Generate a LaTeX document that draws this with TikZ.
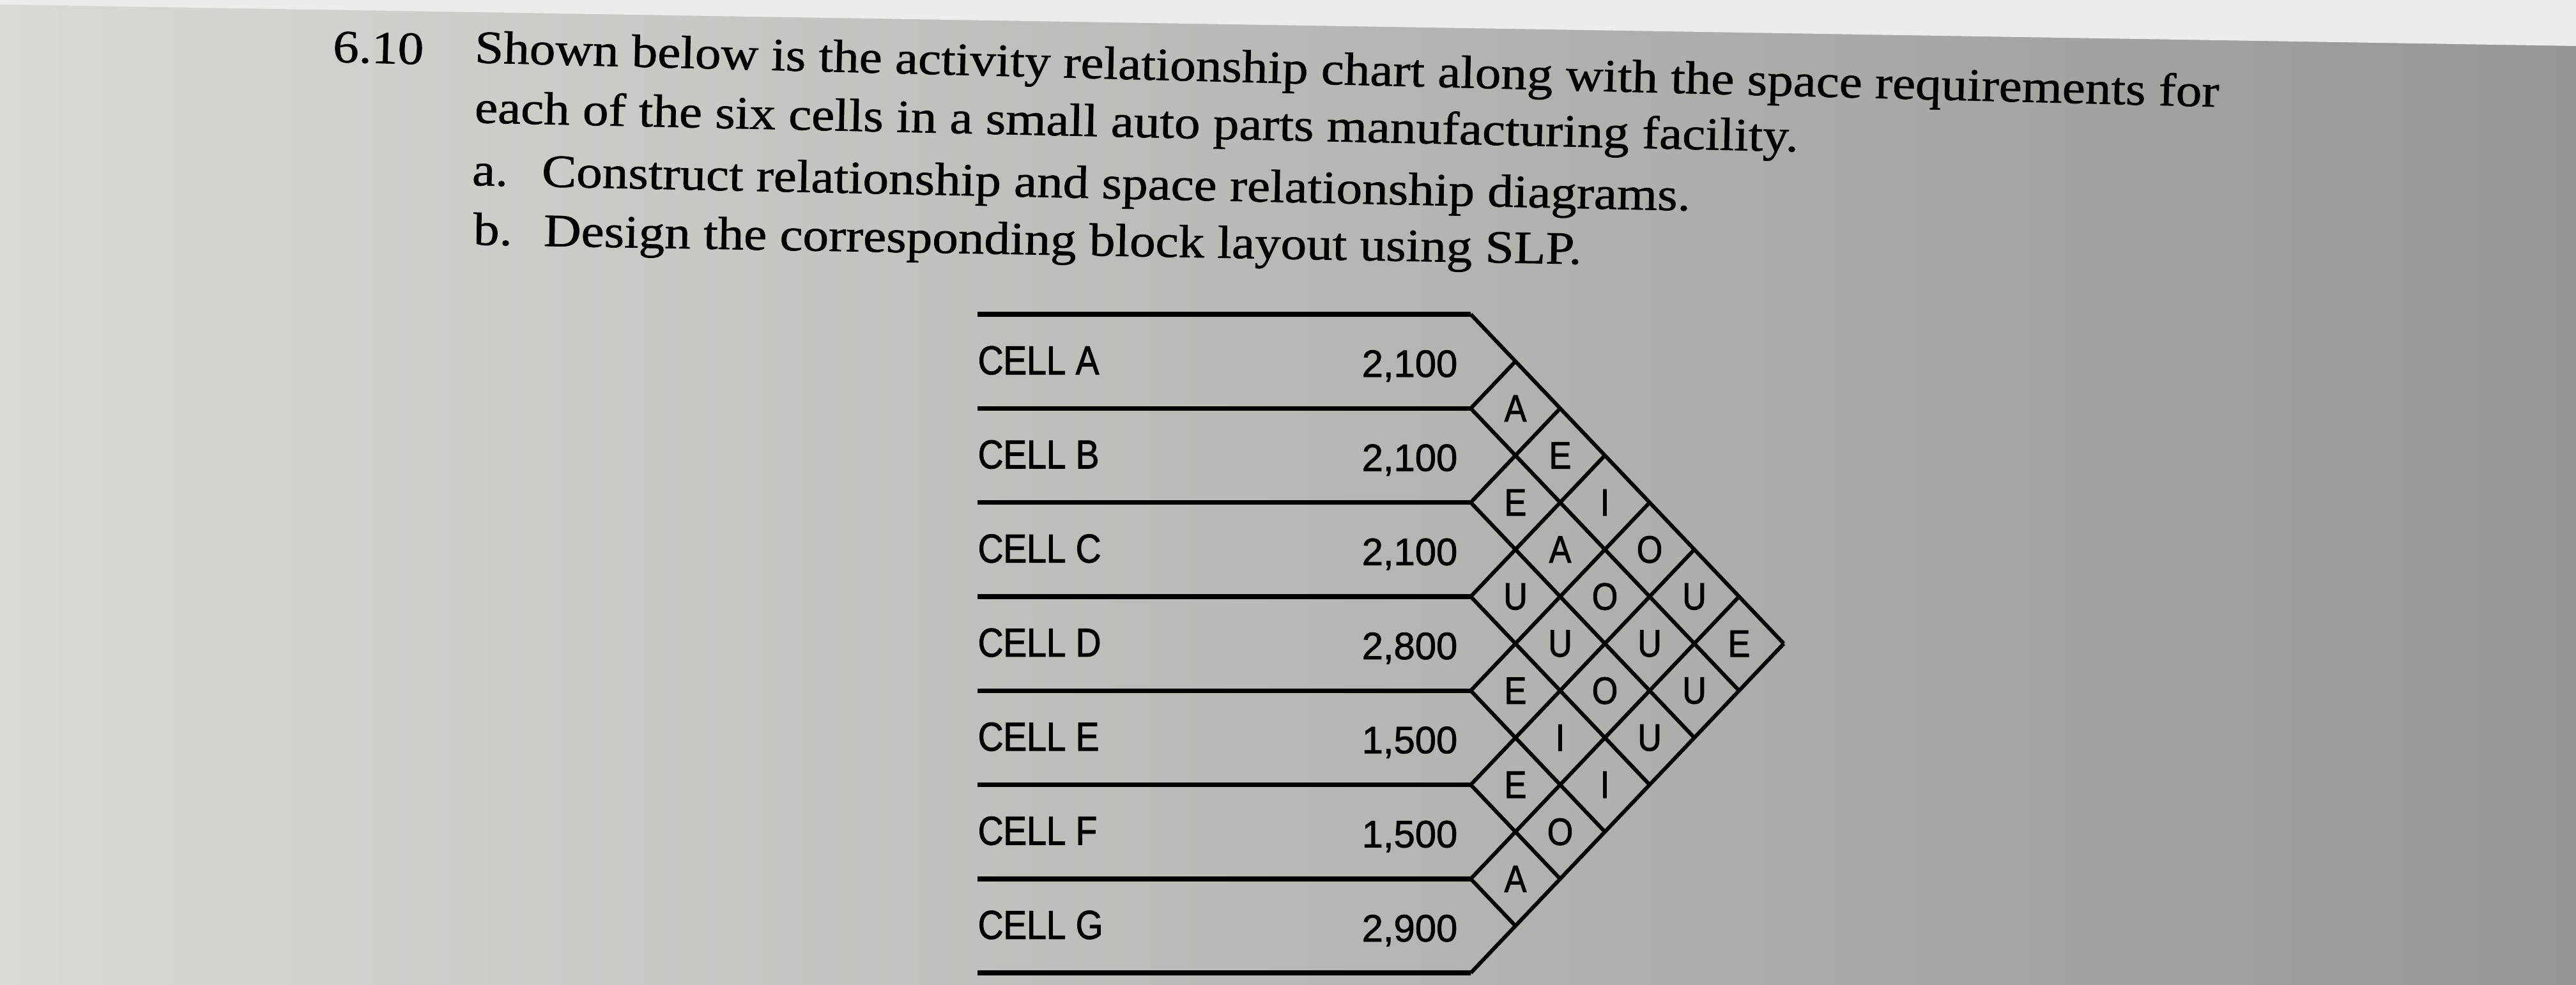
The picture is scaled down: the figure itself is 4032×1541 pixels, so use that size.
\documentclass[tikz,border=0pt]{standalone}
\usepackage{fontspec}
\setmainfont{Liberation Serif}
\newfontfamily\taskfont[FakeStretch=1.12, FakeBold=1]{Liberation Serif}
\newfontfamily\cellfont[FakeStretch=0.87, FakeBold=1.6]{Liberation Sans}
\newfontfamily\areafont[FakeBold=1.4]{Liberation Sans}
\definecolor{paper}{RGB}{236,236,232}
\definecolor{bgleft}{RGB}{218,218,213}
\definecolor{bgmid}{RGB}{195,195,190}
\definecolor{bgright}{RGB}{150,150,147}

\begin{document}
\begin{tikzpicture}[x=0.01cm, y=-0.01cm,
    task/.style={font=\taskfont\fontsize{20.6}{24}\selectfont, anchor=base west, inner sep=0pt},
    cell/.style={font=\cellfont\fontsize{18}{18}\selectfont, anchor=base west, inner sep=0pt},
    area/.style={font=\areafont\fontsize{17}{17}\selectfont, anchor=base east, inner sep=0pt},
    rel/.style={font=\cellfont\fontsize{17}{17}\selectfont, inner sep=0pt},
    rule/.style={line width=2.1pt},
    grid/.style={line width=1.7pt, line join=miter}]

    % page and screen
    \useasboundingbox (0,0) rectangle (4032,1541);
    \shade[left color=bgleft, middle color=bgmid, right color=bgright] (0,0) rectangle (4032,1541);
    \fill[paper] (0,0) -- (4032,0) -- (4032,72) -- (0,7) -- cycle;

    % problem text
    \node[task, rotate=-1.45] (num) at (520,97) {6.10};
    \node[task, rotate=-1.45] (line1) at (742,98) {Shown below is the activity relationship chart along with the space requirements for};
    \node[task, rotate=-1.25] (line2) at (742,192) {each of the six cells in a small auto parts manufacturing facility.};
    \node[task, rotate=-1.2] (itema) at (738,290) {a.};
    \node[task, rotate=-1.2] (taska) at (847,292) {Construct relationship and space relationship diagrams.};
    \node[task, rotate=-1.0] (itemb) at (740,383) {b.};
    \node[task, rotate=-1.0] (taskb) at (850,385) {Design the corresponding block layout using SLP.};

    % cell rows
    \foreach \k in {0,...,7}
        \draw[rule] (1530,{492+\k*147.3}) -- (2302,{492+\k*147.3});

    % relationship diamonds
    \foreach \k in {0,...,6}
        \draw[grid] (2302,{492+\k*147.3}) -- ++({(7-\k)*70},{(7-\k)*73.65});
    \foreach \k in {1,...,7}
        \draw[grid] (2302,{492+\k*147.3}) -- ++({\k*70},{-\k*73.65});

    % names and areas
    \foreach \n/\v [count=\i from 0] in {A/{2,100}, B/{2,100}, C/{2,100}, D/{2,800}, E/{1,500}, F/{1,500}, G/{2,900}} {
        \node[cell] (cell\n) at (1530,{586+\i*147.3}) {CELL \n};
        \node[area] (area\n) at (2282,{590+\i*147.3}) {\v};
    }

    % closeness ratings
    \foreach \i/\j/\r in {0/1/A, 1/2/E, 2/3/U, 3/4/E, 4/5/E, 5/6/A,
            0/2/E, 1/3/A, 2/4/U, 3/5/I, 4/6/O,
            0/3/I, 1/4/O, 2/5/O, 3/6/I,
            0/4/O, 1/5/U, 2/6/U,
            0/5/U, 1/6/U,
            0/6/E}
        \node[rel] (rel\i\j) at ({2302+(\j-\i)*70},{492+(\i+\j+1)*73.65}) {\r};
\end{tikzpicture}
\end{document}
